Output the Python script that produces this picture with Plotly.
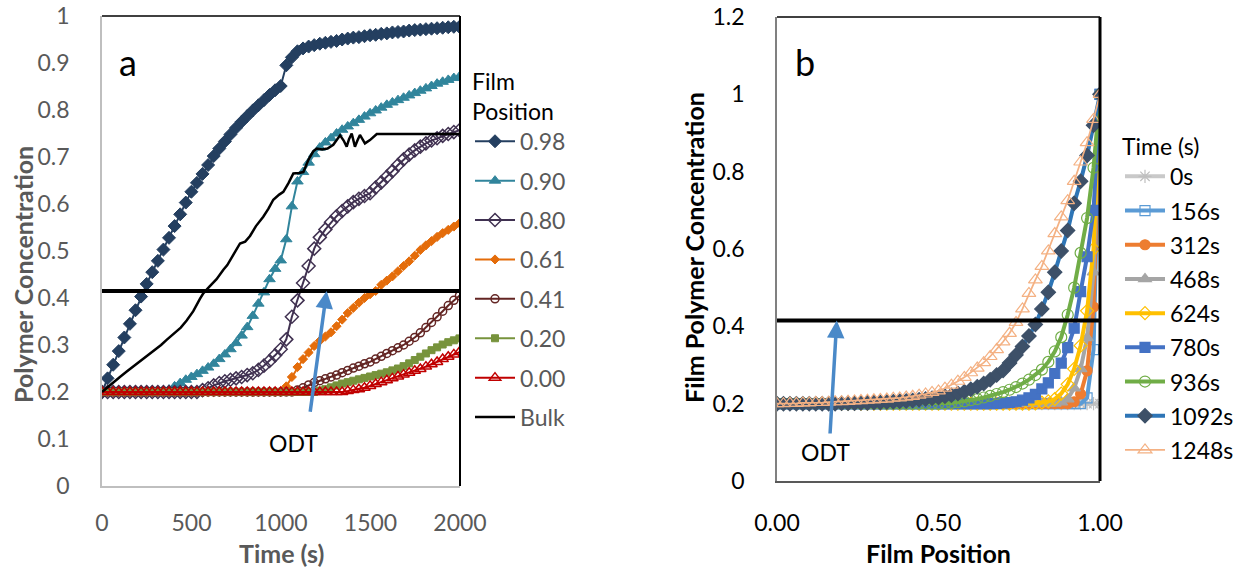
import plotly.graph_objects as go

# ---------------- panel (a): concentration vs time at several film positions
time_s = [
    0, 31.2, 62.4, 93.6, 124.8, 156, 187.2, 218.4, 249.6, 280.8,
    312, 343.2, 374.4, 405.6, 436.8, 468, 499.2, 530.4, 561.6, 592.8,
    624, 655.2, 686.4, 717.6, 748.8, 780, 811.2, 842.4, 873.6, 904.8,
    936, 967.2, 998.4, 1029.6, 1060.8, 1092, 1123.2, 1154.4, 1185.6, 1216.8,
    1248, 1279.2, 1310.4, 1341.6, 1372.8, 1404, 1435.2, 1466.4, 1497.6, 1528.8,
    1560, 1591.2, 1622.4, 1653.6, 1684.8, 1716, 1747.2, 1778.4, 1809.6, 1840.8,
    1872, 1903.2, 1934.4, 1965.6, 1996.8,
]

pos_098 = [
    0.200, 0.229, 0.258, 0.287, 0.316, 0.345, 0.374, 0.403, 0.430, 0.455,
    0.479, 0.503, 0.528, 0.553, 0.578, 0.603, 0.626, 0.645, 0.664, 0.683,
    0.702, 0.718, 0.733, 0.748, 0.762, 0.775, 0.787, 0.799, 0.810, 0.821,
    0.832, 0.842, 0.851, 0.895, 0.912, 0.925, 0.931, 0.935, 0.938, 0.941,
    0.943, 0.945, 0.947, 0.950, 0.952, 0.954, 0.955, 0.957, 0.959, 0.960,
    0.962, 0.963, 0.965, 0.966, 0.967, 0.969, 0.970, 0.971, 0.972, 0.973,
    0.974, 0.975, 0.976, 0.977, 0.977,
]
pos_090 = [
    0.200, 0.200, 0.200, 0.200, 0.200, 0.200, 0.200, 0.200, 0.200, 0.200,
    0.200, 0.200, 0.205, 0.212, 0.219, 0.226, 0.232, 0.238, 0.245, 0.252,
    0.260, 0.270, 0.280, 0.291, 0.304, 0.320, 0.338, 0.362, 0.388, 0.412,
    0.440, 0.462, 0.480, 0.525, 0.595, 0.648, 0.668, 0.688, 0.706, 0.720,
    0.731, 0.740, 0.750, 0.758, 0.765, 0.772, 0.779, 0.786, 0.793, 0.799,
    0.805, 0.811, 0.816, 0.821, 0.826, 0.831, 0.836, 0.841, 0.846, 0.851,
    0.856, 0.860, 0.864, 0.868, 0.871,
]
pos_080 = [
    0.200, 0.200, 0.200, 0.200, 0.200, 0.200, 0.200, 0.200, 0.200, 0.200,
    0.200, 0.200, 0.200, 0.200, 0.200, 0.200, 0.200, 0.200, 0.204, 0.208,
    0.214, 0.219, 0.223, 0.226, 0.229, 0.232, 0.236, 0.240, 0.247, 0.256,
    0.266, 0.278, 0.291, 0.312, 0.360, 0.395, 0.432, 0.468, 0.505, 0.529,
    0.546, 0.561, 0.574, 0.585, 0.595, 0.604, 0.611, 0.617, 0.623, 0.635,
    0.646, 0.658, 0.670, 0.683, 0.695, 0.705, 0.714, 0.722, 0.729, 0.735,
    0.740, 0.745, 0.749, 0.753, 0.757,
]
pos_061 = [
    0.200, 0.200, 0.200, 0.200, 0.200, 0.200, 0.200, 0.200, 0.200, 0.200,
    0.200, 0.200, 0.200, 0.200, 0.200, 0.200, 0.200, 0.200, 0.200, 0.200,
    0.200, 0.200, 0.200, 0.200, 0.200, 0.200, 0.200, 0.200, 0.200, 0.200,
    0.200, 0.200, 0.200, 0.212, 0.232, 0.253, 0.270, 0.284, 0.298, 0.309,
    0.318, 0.327, 0.340, 0.354, 0.368, 0.379, 0.390, 0.400, 0.408, 0.415,
    0.428, 0.437, 0.446, 0.457, 0.468, 0.478, 0.490, 0.502, 0.512, 0.521,
    0.530, 0.538, 0.545, 0.552, 0.559,
]
pos_041 = [
    0.200, 0.200, 0.200, 0.200, 0.200, 0.200, 0.200, 0.200, 0.200, 0.200,
    0.200, 0.200, 0.200, 0.200, 0.200, 0.200, 0.200, 0.200, 0.200, 0.200,
    0.200, 0.200, 0.200, 0.200, 0.200, 0.200, 0.200, 0.200, 0.200, 0.200,
    0.200, 0.200, 0.200, 0.200, 0.200, 0.204, 0.209, 0.215, 0.220, 0.224,
    0.228, 0.232, 0.236, 0.241, 0.246, 0.251, 0.255, 0.260, 0.264, 0.270,
    0.276, 0.282, 0.288, 0.294, 0.300, 0.308, 0.316, 0.326, 0.337, 0.348,
    0.360, 0.372, 0.384, 0.395, 0.405,
]
pos_020 = [
    0.200, 0.200, 0.200, 0.200, 0.200, 0.200, 0.200, 0.200, 0.200, 0.200,
    0.200, 0.200, 0.200, 0.200, 0.200, 0.200, 0.200, 0.200, 0.200, 0.200,
    0.200, 0.200, 0.200, 0.200, 0.200, 0.200, 0.200, 0.200, 0.200, 0.200,
    0.200, 0.200, 0.200, 0.200, 0.200, 0.200, 0.200, 0.200, 0.200, 0.203,
    0.206, 0.210, 0.214, 0.218, 0.221, 0.224, 0.227, 0.230, 0.233, 0.236,
    0.239, 0.242, 0.246, 0.250, 0.255, 0.261, 0.268, 0.275, 0.282, 0.289,
    0.295, 0.301, 0.306, 0.310, 0.314,
]
pos_000 = [
    0.200, 0.200, 0.200, 0.200, 0.200, 0.200, 0.200, 0.200, 0.200, 0.200,
    0.200, 0.200, 0.200, 0.200, 0.200, 0.200, 0.200, 0.200, 0.200, 0.200,
    0.200, 0.200, 0.200, 0.200, 0.200, 0.200, 0.200, 0.200, 0.200, 0.200,
    0.200, 0.200, 0.200, 0.200, 0.200, 0.200, 0.200, 0.200, 0.200, 0.200,
    0.200, 0.200, 0.200, 0.200, 0.202, 0.204, 0.206, 0.209, 0.213, 0.217,
    0.221, 0.225, 0.229, 0.233, 0.237, 0.241, 0.245, 0.249, 0.254, 0.259,
    0.264, 0.270, 0.275, 0.280, 0.285,
]

bulk_time_s = [
    0, 30, 60, 100, 140, 175, 210, 250, 290, 330,
    361, 400, 440, 473, 510, 547, 566, 600, 640, 678,
    700, 740, 771, 800, 827, 860, 901, 930, 957, 990,
    1013, 1041, 1069, 1100, 1125, 1153, 1180, 1200, 1230, 1260,
    1292, 1330, 1350, 1367, 1380, 1395, 1413, 1427, 1441, 1455,
    1469, 1497, 1535, 2000,
]
bulk_conc = [
    0.200, 0.210, 0.220, 0.232, 0.244, 0.254, 0.264, 0.276, 0.288, 0.300,
    0.311, 0.323, 0.337, 0.352, 0.372, 0.398, 0.410, 0.424, 0.440, 0.460,
    0.470, 0.496, 0.516, 0.520, 0.532, 0.553, 0.573, 0.590, 0.609, 0.620,
    0.626, 0.644, 0.665, 0.666, 0.668, 0.694, 0.712, 0.718, 0.716, 0.718,
    0.726, 0.746, 0.735, 0.722, 0.738, 0.750, 0.722, 0.735, 0.747, 0.738,
    0.729, 0.736, 0.749, 0.749,
]

odt_level = 0.415

# ---------------- panel (b): profiles across the film at several times
film_pos = [
    0.00, 0.02, 0.04, 0.06, 0.08, 0.10, 0.12, 0.14, 0.16, 0.18,
    0.20, 0.22, 0.24, 0.26, 0.28, 0.30, 0.32, 0.34, 0.36, 0.38,
    0.40, 0.42, 0.44, 0.46, 0.48, 0.50, 0.52, 0.54, 0.56, 0.58,
    0.60, 0.62, 0.64, 0.66, 0.68, 0.70, 0.72, 0.74, 0.76, 0.78,
    0.80, 0.82, 0.84, 0.86, 0.88, 0.90, 0.92, 0.94, 0.96, 0.98,
    1.00,
]
t_0s = [
    0.200, 0.200, 0.200, 0.200, 0.200, 0.200, 0.200, 0.200, 0.200, 0.200,
    0.200, 0.200, 0.200, 0.200, 0.200, 0.200, 0.200, 0.200, 0.200, 0.200,
    0.200, 0.200, 0.200, 0.200, 0.200, 0.200, 0.200, 0.200, 0.200, 0.200,
    0.200, 0.200, 0.200, 0.200, 0.200, 0.200, 0.200, 0.200, 0.200, 0.200,
    0.200, 0.200, 0.200, 0.200, 0.200, 0.200, 0.200, 0.200, 0.200, 0.200,
    0.200,
]
t_156s = [
    0.200, 0.200, 0.200, 0.200, 0.200, 0.200, 0.200, 0.200, 0.200, 0.200,
    0.200, 0.200, 0.200, 0.200, 0.200, 0.200, 0.200, 0.200, 0.200, 0.200,
    0.200, 0.200, 0.200, 0.200, 0.200, 0.200, 0.200, 0.200, 0.200, 0.200,
    0.200, 0.200, 0.200, 0.200, 0.200, 0.200, 0.200, 0.200, 0.200, 0.200,
    0.200, 0.200, 0.200, 0.200, 0.200, 0.200, 0.200, 0.200, 0.215, 0.340,
    1.000,
]
t_312s = [
    0.200, 0.200, 0.200, 0.200, 0.200, 0.200, 0.200, 0.200, 0.200, 0.200,
    0.200, 0.200, 0.200, 0.200, 0.200, 0.200, 0.200, 0.200, 0.200, 0.200,
    0.200, 0.200, 0.200, 0.200, 0.200, 0.200, 0.200, 0.200, 0.200, 0.200,
    0.200, 0.200, 0.200, 0.200, 0.200, 0.200, 0.200, 0.200, 0.200, 0.200,
    0.200, 0.200, 0.200, 0.200, 0.200, 0.200, 0.205, 0.225, 0.285, 0.450,
    1.000,
]
t_468s = [
    0.200, 0.200, 0.200, 0.200, 0.200, 0.200, 0.200, 0.200, 0.200, 0.200,
    0.200, 0.200, 0.200, 0.200, 0.200, 0.200, 0.200, 0.200, 0.200, 0.200,
    0.200, 0.200, 0.200, 0.200, 0.200, 0.200, 0.200, 0.200, 0.200, 0.200,
    0.200, 0.200, 0.200, 0.200, 0.200, 0.200, 0.200, 0.200, 0.200, 0.200,
    0.200, 0.200, 0.200, 0.201, 0.204, 0.212, 0.240, 0.290, 0.370, 0.540,
    1.000,
]
t_624s = [
    0.200, 0.200, 0.200, 0.200, 0.200, 0.200, 0.200, 0.200, 0.200, 0.200,
    0.200, 0.200, 0.200, 0.200, 0.200, 0.200, 0.200, 0.200, 0.200, 0.200,
    0.200, 0.200, 0.200, 0.200, 0.200, 0.200, 0.200, 0.200, 0.200, 0.200,
    0.200, 0.200, 0.200, 0.200, 0.200, 0.200, 0.200, 0.200, 0.200, 0.200,
    0.201, 0.203, 0.206, 0.212, 0.226, 0.250, 0.290, 0.350, 0.440, 0.600,
    1.000,
]
t_780s = [
    0.200, 0.200, 0.200, 0.200, 0.200, 0.200, 0.200, 0.200, 0.200, 0.200,
    0.200, 0.200, 0.200, 0.200, 0.200, 0.200, 0.200, 0.200, 0.200, 0.200,
    0.200, 0.200, 0.200, 0.200, 0.200, 0.200, 0.200, 0.200, 0.200, 0.200,
    0.200, 0.200, 0.200, 0.200, 0.201, 0.202, 0.203, 0.205, 0.209, 0.215,
    0.224, 0.238, 0.254, 0.278, 0.305, 0.345, 0.395, 0.490, 0.580, 0.700,
    1.000,
]
t_936s = [
    0.200, 0.200, 0.200, 0.200, 0.200, 0.200, 0.200, 0.200, 0.200, 0.200,
    0.200, 0.200, 0.200, 0.200, 0.200, 0.200, 0.200, 0.200, 0.200, 0.200,
    0.200, 0.200, 0.200, 0.200, 0.200, 0.200, 0.201, 0.202, 0.204, 0.206,
    0.209, 0.212, 0.216, 0.220, 0.225, 0.230, 0.236, 0.243, 0.252, 0.262,
    0.274, 0.288, 0.308, 0.335, 0.372, 0.430, 0.500, 0.590, 0.680, 0.810,
    1.000,
]
t_1092s = [
    0.200, 0.200, 0.200, 0.200, 0.200, 0.200, 0.200, 0.200, 0.200, 0.200,
    0.201, 0.201, 0.201, 0.202, 0.202, 0.203, 0.203, 0.204, 0.205, 0.206,
    0.207, 0.208, 0.210, 0.212, 0.214, 0.216, 0.219, 0.222, 0.226, 0.231,
    0.237, 0.244, 0.252, 0.262, 0.274, 0.286, 0.305, 0.326, 0.348, 0.375,
    0.405, 0.445, 0.488, 0.540, 0.595, 0.648, 0.718, 0.775, 0.842, 0.920,
    1.000,
]
t_1248s = [
    0.200, 0.200, 0.201, 0.201, 0.202, 0.202, 0.203, 0.203, 0.204, 0.205,
    0.205, 0.206, 0.207, 0.208, 0.209, 0.210, 0.211, 0.212, 0.214, 0.215,
    0.217, 0.219, 0.222, 0.225, 0.229, 0.233, 0.240, 0.248, 0.258, 0.268,
    0.280, 0.292, 0.306, 0.322, 0.340, 0.360, 0.382, 0.410, 0.445, 0.485,
    0.520, 0.555, 0.595, 0.640, 0.683, 0.725, 0.775, 0.825, 0.875, 0.935,
    1.000,
]

FONT = "Lato"
W, H = 1252, 577


def px_x(p):
    return p / W


def px_y(p):
    return (H - p) / H


fig = go.Figure()

# ---- panel (a) traces
series_a = [
    ("0.98", pos_098, "#243F60", "diamond", 10, 1),
    ("0.90", pos_090, "#31859C", "triangle-up", 10, 1),
    ("0.80", pos_080, "#403151", "diamond-open", 10, 1.5),
    ("0.61", pos_061, "#E46C0A", "diamond", 7, 1),
    ("0.41", pos_041, "#632523", "circle-open", 8, 1.5),
    ("0.20", pos_020, "#77933C", "square", 7, 1),
    ("0.00", pos_000, "#C00000", "triangle-up-open", 10, 1.5),
]
for name, vals, col, sym, size, lw in series_a:
    fig.add_trace(go.Scatter(
        x=time_s, y=vals, name=name, mode="lines+markers",
        line=dict(color=col, width=2),
        marker=dict(symbol=sym, size=size, color=col, line=dict(color=col, width=lw)),
        xaxis="x", yaxis="y", legend="legend", legendgroup="a" + name,
    ))
fig.add_trace(go.Scatter(
    x=bulk_time_s, y=bulk_conc, name="Bulk", mode="lines",
    line=dict(color="black", width=2.5),
    xaxis="x", yaxis="y", legend="legend", legendgroup="aBulk",
))
fig.add_trace(go.Scatter(
    x=[0, 2000], y=[odt_level, odt_level], mode="lines",
    line=dict(color="black", width=4), showlegend=False,
    xaxis="x", yaxis="y",
))

# ---- panel (b) traces
series_b = [
    ("0s", t_0s, "#C9C9C9", "#BFBFBF", "asterisk-open", 11, 4),
    ("156s", t_156s, "#5B9BD5", "#5B9BD5", "square-open", 10, 4),
    ("312s", t_312s, "#ED7D31", "#ED7D31", "circle", 10, 4),
    ("468s", t_468s, "#A5A5A5", "#A5A5A5", "triangle-up", 11, 4),
    ("624s", t_624s, "#FFC000", "#FFC000", "diamond-open", 10, 4),
    ("780s", t_780s, "#4472C4", "#4472C4", "square", 10, 4),
    ("936s", t_936s, "#70AD47", "#70AD47", "circle-open", 11, 4),
    ("1092s", t_1092s, "#2E75B6", "#3D5068", "diamond", 11, 4),
    ("1248s", t_1248s, "#F4B183", "#F4B183", "triangle-up-open", 12, 1.75),
]
for name, vals, lcol, mcol, sym, size, lw in series_b:
    fig.add_trace(go.Scatter(
        x=film_pos, y=vals, name=name, mode="lines+markers",
        line=dict(color=lcol, width=lw),
        marker=dict(symbol=sym, size=size, color=mcol, line=dict(color=mcol, width=1.2)),
        xaxis="x2", yaxis="y2", legend="legend2", legendgroup="b" + name,
    ))
fig.add_trace(go.Scatter(
    x=[0, 1], y=[odt_level, odt_level], mode="lines",
    line=dict(color="black", width=4), showlegend=False,
    xaxis="x2", yaxis="y2",
))

tick_a = dict(family=FONT, size=23, color="#595959")
tick_b = dict(family=FONT, size=23, color="black")

common_axis = dict(showgrid=False, zeroline=False, showline=True, ticks="",
                   automargin=False)

fig.update_layout(
    width=W, height=H,
    margin=dict(l=0, r=0, t=0, b=0, autoexpand=False),
    paper_bgcolor="white", plot_bgcolor="white",
    font=dict(family=FONT),
    xaxis=dict(
        domain=[px_x(102), px_x(460)], range=[0, 2000],
        tickvals=[0, 500, 1000, 1500, 2000], tickfont=tick_a,
        linecolor="#BFBFBF", linewidth=1.5, ticklabelstandoff=16,
        anchor="y", **common_axis,
    ),
    yaxis=dict(
        domain=[px_y(486), px_y(16)], range=[0, 1], dtick=0.1,
        tickfont=tick_a, linecolor="#BFBFBF", linewidth=1.5,
        ticklabelstandoff=26, anchor="x", **common_axis,
    ),
    xaxis2=dict(
        domain=[px_x(777), px_x(1100)], range=[0, 1],
        tickvals=[0, 0.5, 1], tickformat=".2f", tickfont=tick_b,
        linecolor="#595959", linewidth=1.5, ticklabelstandoff=21,
        anchor="y2", **common_axis,
    ),
    yaxis2=dict(
        domain=[px_y(481), px_y(17)], range=[0, 1.2], dtick=0.2,
        tickfont=tick_b, linecolor="#808080", linewidth=1.5,
        ticklabelstandoff=26, anchor="x2", **common_axis,
    ),
    legend=dict(
        x=px_x(470), y=px_y(60), xanchor="left", yanchor="top",
        font=dict(family=FONT, size=23, color="#595959"),
        title=dict(text="Film<br>Position", font=dict(family=FONT, size=23, color="black")),
        tracegroupgap=6.5, itemwidth=40, bgcolor="rgba(0,0,0,0)",
    ),
    legend2=dict(
        x=px_x(1120), y=px_y(125), xanchor="left", yanchor="top",
        font=dict(family=FONT, size=23, color="black"),
        title=dict(text="Time (s)", font=dict(family=FONT, size=23, color="black")),
        tracegroupgap=1.3, itemwidth=40, bgcolor="rgba(0,0,0,0)",
    ),
    showlegend=True,
)

# plot-area frame: top and right edges in black
for xr, yr, w_right in (("x domain", "y domain", 2), ("x2 domain", "y2 domain", 3)):
    fig.add_shape(type="line", xref=xr, yref=yr, x0=0, x1=1, y0=1, y1=1,
                  line=dict(color="black", width=1.5))
    fig.add_shape(type="line", xref=xr, yref=yr, x0=1, x1=1, y0=0, y1=1,
                  line=dict(color="black", width=w_right))


def label(text, x, y, size, color, angle=0):
    fig.add_annotation(text=text, x=px_x(x), y=px_y(y), xref="paper", yref="paper",
                       xanchor="center", yanchor="middle", textangle=angle,
                       showarrow=False, font=dict(family=FONT, size=size, color=color))


# axis titles and panel letters
label("<b>Polymer Concentration</b>", 23, 275, 25, "#595959", -90)
label("<b>Time (s)</b>", 281, 553, 25, "#595959")
label("<b>Film Polymer Concentration</b>", 694, 248, 25, "black", -90)
label("<b>Film Position</b>", 938, 553, 25, "black")
label("a", 128, 62, 36, "black")
label("b", 805, 62, 36, "black")

# ODT arrows and labels
arrow_col = "#4A89C8"
fig.add_annotation(x=1255, y=odt_level, ax=1162, ay=0.155, xref="x", yref="y",
                   axref="x", ayref="y", text="", showarrow=True,
                   arrowhead=2, arrowsize=1, arrowwidth=3.5, arrowcolor=arrow_col)
fig.add_annotation(text="ODT", x=1069, y=0.091, xref="x", yref="y", showarrow=False,
                   xanchor="center", yanchor="middle",
                   font=dict(family=FONT, size=23, color="black"))
fig.add_annotation(x=0.185, y=odt_level, ax=0.164, ay=0.119, xref="x2", yref="y2",
                   axref="x2", ayref="y2", text="", showarrow=True,
                   arrowhead=2, arrowsize=1, arrowwidth=3.5, arrowcolor=arrow_col)
fig.add_annotation(text="ODT", x=0.149, y=0.076, xref="x2", yref="y2", showarrow=False,
                   xanchor="center", yanchor="middle",
                   font=dict(family=FONT, size=23, color="black"))

fig.write_html("out.html")
